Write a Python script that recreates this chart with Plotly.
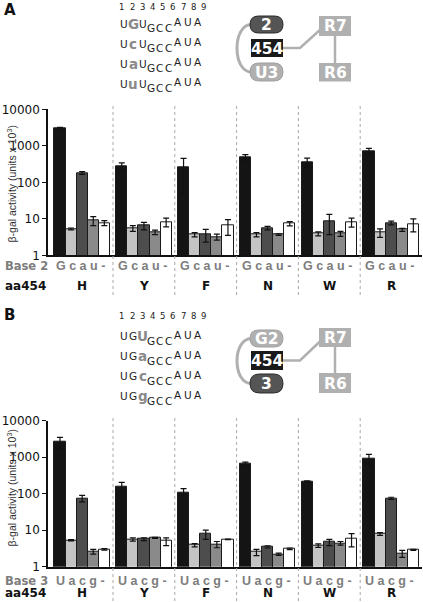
import plotly.graph_objects as go

W, H = 423, 602

# ---------------- data ----------------
amino = ["H", "Y", "F", "N", "W", "R"]
base2_labels = ["G", "c", "a", "u", "-"]
base3_labels = ["U", "a", "c", "g", "-"]
ytick_vals = [1, 10, 100, 1000, 10000]
ytick_text = ["1", "10", "100", "1000", "10000"]

# Panel A (base 2 variants), per amino acid H, Y, F, N, W, R
a_G = [3100, 270, 250, 480, 360, 720]
a_G_err = [100, 70, 200, 90, 100, 130]
a_c = [5.3, 5.5, 3.7, 3.7, 3.9, 4.2]
a_c_err = [0.3, 1.0, 0.5, 0.5, 0.5, 1.1]
a_a = [180, 6.5, 3.7, 5.6, 8.5, 7.7]
a_a_err = [15, 1.5, 1.4, 0.6, 4.8, 0.9]
a_u = [9.0, 4.3, 3.2, 3.7, 3.9, 5.0]
a_u_err = [2.5, 0.6, 0.6, 0.2, 0.6, 0.5]
a_none = [7.7, 8.2, 6.5, 7.4, 8.2, 7.2]
a_none_err = [1.2, 2.2, 3.0, 1.0, 2.3, 2.8]

# Panel B (base 3 variants)
b_U = [2600, 160, 105, 680, 218, 910]
b_U_err = [900, 45, 32, 50, 8, 290]
b_a = [5.3, 5.6, 3.9, 2.5, 3.8, 7.9]
b_a_err = [0.2, 0.6, 0.4, 0.5, 0.4, 0.7]
b_c = [75, 5.7, 7.8, 3.5, 4.7, 75]
b_c_err = [15, 0.5, 2.2, 0.25, 0.9, 5]
b_g = [2.6, 6.2, 4.1, 2.2, 4.4, 2.3]
b_g_err = [0.4, 0.2, 0.8, 0.15, 0.5, 0.5]
b_none = [3.0, 5.0, 5.6, 3.1, 5.8, 2.9]
b_none_err = [0.15, 1.2, 0.1, 0.15, 2.3, 0.1]

seq_rows_A = ["UGU", "UcU", "UaU", "UuU"]
seq_rows_B = ["UGU", "UGa", "UGc", "UGg"]
seq_tail = "GCCAUA"

# ---------------- styling / layout helpers ----------------
bar_colors = ["#141414", "#c4c4c4", "#4d4d4d", "#8a8a8a", "#ffffff"]
GROUP_W = 61.8
GROUP_PAD = 3.2
BAR_W = 11.1


def px(x):
    return x / W


def py(y):
    return 1 - y / H


def bar_x(j):
    return [GROUP_PAD + g * GROUP_W + 3.2 + BAR_W * (j + 0.5) for g in range(len(amino))]


fig = go.Figure()

panels = [
    dict(xa="x", ya="y", vals=[a_G, a_c, a_a, a_u, a_none],
         errs=[a_G_err, a_c_err, a_a_err, a_u_err, a_none_err], names=base2_labels),
    dict(xa="x2", ya="y2", vals=[b_U, b_a, b_c, b_g, b_none],
         errs=[b_U_err, b_a_err, b_c_err, b_g_err, b_none_err], names=base3_labels),
]
for p in panels:
    for j in range(5):
        fig.add_trace(go.Bar(
            x=bar_x(j), y=p["vals"][j], width=BAR_W, xaxis=p["xa"], yaxis=p["ya"],
            name=p["names"][j], showlegend=False,
            marker=dict(color=bar_colors[j], line=dict(color="#1a1a1a", width=1)),
            error_y=dict(type="data", array=p["errs"][j], color="#111", thickness=1.2, width=3),
        ))

xr = [0, 374]
ax_common = dict(showgrid=False, zeroline=False, automargin=False)
yax = dict(type="log", range=[0, 4], tickvals=ytick_vals, ticktext=ytick_text,
           showline=True, linecolor="#111", linewidth=1.5, ticks="outside",
           ticklen=4, tickwidth=1.3, tickcolor="#111",
           tickfont=dict(family="DejaVu Sans", size=12, color="#111"), **ax_common)
xax = dict(range=xr, showline=True, linecolor="#111", linewidth=1.5,
           showticklabels=False, ticks="", **ax_common)

fig.update_layout(
    template="none",
    width=W, height=H, autosize=False,
    margin=dict(l=0, r=0, t=0, b=0, pad=0),
    paper_bgcolor="white", plot_bgcolor="white",
    bargap=0, showlegend=False,
    xaxis=dict(domain=[px(48), px(422)], anchor="y", **xax),
    yaxis=dict(domain=[py(255.3), py(109.3)], anchor="x", **yax),
    xaxis2=dict(domain=[px(48), px(422)], anchor="y2", **xax),
    yaxis2=dict(domain=[py(566.7), py(420.7)], anchor="x2", **yax),
)

shapes = []
ann = []

# dashed separators
for g in range(1, len(amino)):
    xs = GROUP_PAD + g * GROUP_W
    for xref, y0, y1 in [("x", 106, 296), ("x2", 418, 602)]:
        shapes.append(dict(type="line", xref=xref, yref="paper", x0=xs, x1=xs,
                           y0=py(y0), y1=py(y1),
                           line=dict(color="#a8a8a8", width=1, dash="3px,3px")))

# x labels
for xref, base_name, letters, yb, yaa in [("x", "Base 2", base2_labels, 265.8, 286.5),
                                          ("x2", "Base 3", base3_labels, 580.5, 593.3)]:
    ann.append(dict(text=base_name, xref="paper", yref="paper", x=px(3), y=py(yb),
                    xanchor="left", yanchor="middle", showarrow=False,
                    font=dict(family="DejaVu Sans", size=11.5, color="#7d7d7d", weight="bold")))
    ann.append(dict(text="aa454", xref="paper", yref="paper", x=px(3), y=py(yaa),
                    xanchor="left", yanchor="middle", showarrow=False,
                    font=dict(family="DejaVu Sans", size=12, color="#111", weight="bold")))
    for g, aa in enumerate(amino):
        gs = GROUP_PAD + g * GROUP_W
        ann.append(dict(text=" ".join(letters), xref=xref, yref="paper", x=gs + 3.0, y=py(yb),
                        xanchor="left", yanchor="middle", showarrow=False,
                        font=dict(family="Liberation Sans", size=12.5, color="#7d7d7d", weight="bold")))
        ann.append(dict(text=aa, xref=xref, yref="paper", x=gs + GROUP_W / 2, y=py(yaa),
                        xanchor="center", yanchor="middle", showarrow=False,
                        font=dict(family="DejaVu Sans", size=12, color="#111", weight="bold")))

# y titles
for yc in [183.5, 487.5]:
    ann.append(dict(text="β-gal activity (units x 10<sup>3</sup>)", xref="paper", yref="paper",
                    x=px(11), y=py(yc), xanchor="center", yanchor="middle", textangle=-90,
                    showarrow=False, font=dict(family="Liberation Sans", size=10.5, color="#333")))

# panel letters
for lab, yc in [("A", 10), ("B", 315)]:
    ann.append(dict(text=lab, xref="paper", yref="paper", x=px(2), y=py(yc),
                    xanchor="left", yanchor="middle", showarrow=False,
                    font=dict(family="DejaVu Sans", size=15, color="#111", weight="bold")))

# sequences
centers = [124, 133, 142.5, 151, 159.7, 168, 177.5, 187.5, 197.5]
yoff = [0, 0, 0, 4.6, 4.6, 4.6, -1.5, -1.5, -1.5]
for rows, var_i, num_y, row_y0 in [(seq_rows_A, 1, 7, 23.7), (seq_rows_B, 2, 316, 336.3)]:
    for k in range(9):
        ann.append(dict(text=str(k + 1), xref="paper", yref="paper",
                        x=px(121.8 + k * 10.2), y=py(num_y), xanchor="center", yanchor="middle",
                        showarrow=False, font=dict(family="DejaVu Sans", size=8.5, color="#222")))
    for r, head in enumerate(rows):
        chars = head + seq_tail
        for k, ch in enumerate(chars):
            is_var = (k == var_i)
            ann.append(dict(text=ch, xref="paper", yref="paper", x=px(centers[k]),
                            y=py(row_y0 + 20 * r + yoff[k]),
                            xanchor="center", yanchor="middle", showarrow=False,
                            font=dict(family="DejaVu Sans", size=13.5 if is_var else 10.5,
                                      color="#8a8a8a" if is_var else "#222",
                                      weight="bold" if is_var else "normal")))


# diagrams
def P(x, y):
    return f"{px(x):.5f},{py(y):.5f}"


def rrect(x0, y0, x1, y1, r):
    return (f"M{P(x0 + r, y0)} L{P(x1 - r, y0)} Q{P(x1, y0)} {P(x1, y0 + r)} "
            f"L{P(x1, y1 - r)} Q{P(x1, y1)} {P(x1 - r, y1)} L{P(x0 + r, y1)} "
            f"Q{P(x0, y1)} {P(x0, y1 - r)} L{P(x0, y0 + r)} Q{P(x0, y0)} {P(x0 + r, y0)} Z")


LG = "#b0b0b0"
DK = "#555555"


def diagram(top_lab, top_dark, bot_lab, bot_dark, ys):
    (t0, t1), (m0, m1), (b0, b1), (r70, r71), (r60, r61) = ys
    mid = (m0 + m1) / 2
    # connectors
    shapes.append(dict(type="path", xref="paper", yref="paper",
                       path=f"M{P(252, (t0 + t1) / 2)} C{P(232, (t0 + t1) / 2 - 1)} {P(232, (b0 + b1) / 2 + 1)} {P(252, (b0 + b1) / 2)}",
                       line=dict(color=LG, width=3)))
    shapes.append(dict(type="path", xref="paper", yref="paper",
                       path=f"M{P(283, mid)} L{P(300, mid)} L{P(321, (r70 + r71) / 2 + 3)}",
                       line=dict(color=LG, width=2.5)))
    shapes.append(dict(type="line", xref="paper", yref="paper", x0=px(335), x1=px(335),
                       y0=py(r71), y1=py(r60), line=dict(color=LG, width=2.5)))
    for (y0, y1, lab, dark) in [(t0, t1, top_lab, top_dark), (b0, b1, bot_lab, bot_dark)]:
        shapes.append(dict(type="path", xref="paper", yref="paper",
                           path=rrect(250, y0, 283, y1, (y1 - y0) / 2),
                           fillcolor=DK if dark else LG,
                           line=dict(color="#2a2a2a" if dark else "#a0a0a0", width=1)))
        ann.append(dict(text=lab, xref="paper", yref="paper", x=px(266.5), y=py((y0 + y1) / 2 + 0.5),
                        xanchor="center", yanchor="middle", showarrow=False,
                        font=dict(family="DejaVu Sans", size=15.5, color="white", weight="bold")))
    shapes.append(dict(type="rect", xref="paper", yref="paper", x0=px(251), x1=px(283),
                       y0=py(m1), y1=py(m0), fillcolor="#1a1a1a", line=dict(width=0)))
    ann.append(dict(text="454", xref="paper", yref="paper", x=px(267), y=py(mid + 0.5),
                    xanchor="center", yanchor="middle", showarrow=False,
                    font=dict(family="DejaVu Sans", size=15.5, color="white", weight="bold")))
    for (y0, y1, lab) in [(r70, r71, "R7"), (r60, r61, "R6")]:
        shapes.append(dict(type="rect", xref="paper", yref="paper", x0=px(319), x1=px(351),
                           y0=py(y1), y1=py(y0), fillcolor=LG, line=dict(width=0)))
        ann.append(dict(text=lab, xref="paper", yref="paper", x=px(335), y=py((y0 + y1) / 2 + 0.5),
                        xanchor="center", yanchor="middle", showarrow=False,
                        font=dict(family="DejaVu Sans", size=15.5, color="white", weight="bold")))


diagram("2", True, "U3", False,
        [(16, 33), (39, 57), (63, 81), (16, 36), (63, 81.5)])
diagram("G2", False, "3", True,
        [(330, 347), (351, 370), (374, 393), (328, 347), (373, 393)])

fig.update_layout(shapes=shapes, annotations=ann)
fig.write_html("out.html", config={"displayModeBar": False},
               post_script="document.body.style.margin='0';document.body.style.padding='0';")
